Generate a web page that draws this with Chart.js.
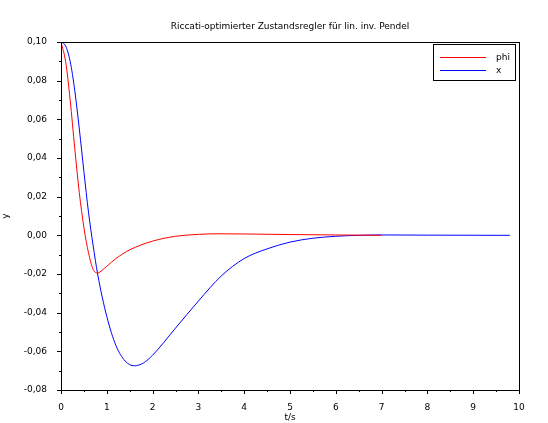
<!DOCTYPE html><html><head><style>body{margin:0;background:#fff}#w{width:548px;height:423px}</style>
<script src="https://cdn.jsdelivr.net/npm/chart.js@4"></script></head><body><div id="w"><canvas id="c"></canvas></div><script>
const phiT=[0,0.1,0.2,0.3,0.4,0.5,0.6,0.7,0.8,0.9,1.0,1.2,1.5,2.0,2.5,3.0,3.5,4,5,6,7];
const phiV=[0.1,0.09,0.07,0.045,0.022,0.004,-0.009,-0.0175,-0.0195,-0.018,-0.016,-0.012,-0.0075,-0.003,-0.0005,0.0005,0.0008,0.0007,0.0004,0.0002,0];
const xT=[0,0.1,0.2,0.3,0.4,0.5,0.6,0.7,0.8,1.0,1.2,1.4,1.6,1.8,2.0,2.5,3.0,3.5,4,4.5,5,5.5,6,6.5,7,8,9.8];
const xV=[0.1,0.098,0.09,0.075,0.055,0.033,0.012,-0.005,-0.02,-0.042,-0.057,-0.065,-0.0675,-0.066,-0.062,-0.048,-0.034,-0.021,-0.012,-0.007,-0.0035,-0.0015,-0.0005,0,0.0002,0.0001,0];
const F='"DejaVu Sans"';
const deco={id:'deco',afterDraw(c){const a=c.chartArea,g=c.ctx;g.save();g.strokeStyle='#000';g.lineWidth=1;
g.strokeRect(a.left+.5,a.top+.5,a.right-a.left,a.bottom-a.top);
g.font='9px '+F;g.fillStyle='#000';g.textAlign='center';g.fillText('Riccati-optimierter Zustandsregler für lin. inv. Pendel',290,29);
const y=c.scales.y,x=c.scales.x;
for(let v=-0.08;v<=0.1001;v+=0.01){const p=Math.round(y.getPixelForValue(v))+.5;g.beginPath();g.moveTo(a.left,p);g.lineTo(a.left-(Math.round(v*100)%2?2:4),p);g.stroke();}
for(let v=0;v<=10.001;v+=0.5){const p=Math.round(x.getPixelForValue(v))+.5;g.beginPath();g.moveTo(p,a.bottom);g.lineTo(p,a.bottom+(Math.round(v*2)%2?2:4));g.stroke();}
g.strokeRect(433.5,44.5,82,36);
[['phi','#ff0000',57],['x','#0000ff',70]].forEach(([t,col,yy])=>{g.strokeStyle=col;g.beginPath();g.moveTo(440,yy+.5);g.lineTo(486,yy+.5);g.stroke();g.textAlign='left';g.fillText(t,496,yy+3);});
g.restore();}};
new Chart(document.getElementById('c'),{type:'line',data:{datasets:[
{data:phiT.map((t,i)=>({x:t,y:phiV[i]})),borderColor:'#ff0000',borderWidth:1,pointRadius:0,cubicInterpolationMode:'monotone'},
{data:xT.map((t,i)=>({x:t,y:xV[i]})),borderColor:'#0000ff',borderWidth:1,pointRadius:0,cubicInterpolationMode:'monotone'}]},
options:{animation:false,responsive:true,maintainAspectRatio:false,layout:{padding:{top:42,right:29,left:0,bottom:0}},
plugins:{legend:{display:false},tooltip:{enabled:false}},
scales:{x:{type:'linear',min:0,max:10,afterFit:s=>{s.height=33},grid:{display:false},border:{display:false},
ticks:{stepSize:1,color:'#000',font:{family:F,size:9},padding:4},title:{display:true,text:'t/s',color:'#000',font:{family:F,size:9},padding:0}},
y:{min:-0.08,max:0.1,afterFit:s=>{s.width=61},grid:{display:false},border:{display:false},
ticks:{stepSize:0.02,color:'#000',font:{family:F,size:9},padding:6,callback:v=>v.toFixed(2).replace('.',',').replace('-0,00','0,00')},
title:{display:true,text:'y',color:'#000',font:{family:F,size:9},padding:{top:0,bottom:0,y:0}}}}},plugins:[deco]});
</script></body></html>
